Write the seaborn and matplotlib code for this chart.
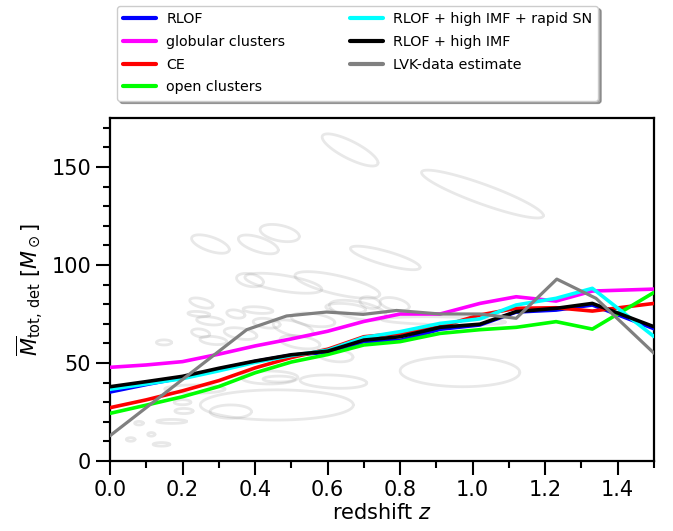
import numpy as np
import pandas as pd
import matplotlib
matplotlib.use("Agg")
import matplotlib.pyplot as plt
import seaborn as sns

# ---------------- data ----------------
z_model = [0.0, 0.1, 0.2, 0.3, 0.4, 0.5, 0.6, 0.7, 0.8, 0.91, 1.02, 1.12, 1.23, 1.33, 1.5]

rlof        = [35.2, 39.0, 42.5, 46.8, 50.8, 54.0, 55.5, 60.9, 61.5, 67.2, 69.4, 76.0, 77.0, 79.6, 67.5]
globular    = [47.8, 49.0, 50.7, 54.5, 58.7, 62.3, 66.2, 71.2, 75.0, 75.0, 80.4, 83.8, 81.6, 86.7, 87.7]
ce          = [27.2, 31.2, 35.8, 41.0, 47.5, 52.8, 57.0, 63.4, 65.1, 68.5, 74.5, 77.9, 78.2, 76.5, 80.4]
open_cl     = [24.3, 28.5, 32.8, 38.0, 45.0, 50.5, 54.3, 59.2, 60.9, 65.1, 67.0, 68.2, 71.1, 67.3, 86.0]
rlof_imf_sn = [36.6, 39.3, 42.0, 46.0, 50.3, 53.8, 56.5, 63.0, 66.0, 70.2, 72.5, 79.6, 83.0, 88.1, 63.5]
rlof_imf    = [37.9, 40.5, 43.2, 47.3, 51.0, 54.2, 56.0, 61.7, 63.4, 68.2, 69.8, 76.2, 77.9, 80.4, 68.5]

z_lvk = [0.0, 0.377, 0.487, 0.597, 0.698, 0.79, 0.91, 1.02, 1.12, 1.232, 1.34, 1.5]
lvk   = [12.9, 67.0, 74.0, 76.0, 74.8, 76.8, 75.0, 75.0, 72.8, 92.8, 83.0, 55.0]

series_labels = ["RLOF", "globular clusters", "CE", "open clusters",
                 "RLOF + high IMF + rapid SN", "RLOF + high IMF", "LVK-data estimate"]
series_colors = ["#0000ff", "#ff00ff", "#ff0000", "#00ff00", "#00ffff", "#000000", "#808080"]

# individual-event credible ellipses: centre z, centre M, half-width z, half-height M, correlation
ell_z   = [0.662, 1.027, 0.277, 0.409, 0.468, 0.759, 0.627, 0.386, 0.478, 0.252,
           0.965, 0.460, 0.333, 0.616, 0.466, 0.234, 0.149, 0.080, 0.057, 0.114,
           0.142, 0.170, 0.204, 0.245, 0.276, 0.347, 0.408, 0.250, 0.285, 0.432,
           0.505, 0.524, 0.620, 0.650, 0.717, 0.683, 0.440, 0.785, 0.920, 0.200,
           0.360, 0.560]
ell_M   = [158.7, 136.2, 110.7, 110.5, 116.3, 103.6, 89.8, 92.3, 90.7, 80.6,
           45.6, 28.6, 25.2, 40.5, 41.8, 36.7, 60.5, 19.3, 11.0, 13.6,
           8.5, 20.2, 25.5, 75.0, 71.5, 75.0, 77.0, 65.3, 61.5, 70.3,
           67.7, 60.6, 54.0, 77.9, 80.8, 76.9, 42.6, 80.0, 71.5, 30.0,
           65.0, 72.0]
ell_dz  = [0.077, 0.168, 0.052, 0.055, 0.054, 0.096, 0.117, 0.037, 0.106, 0.032,
           0.165, 0.211, 0.057, 0.092, 0.044, 0.083, 0.021, 0.012, 0.012, 0.010,
           0.023, 0.041, 0.025, 0.030, 0.037, 0.025, 0.041, 0.025, 0.037, 0.037,
           0.055, 0.055, 0.050, 0.055, 0.028, 0.078, 0.078, 0.040, 0.170, 0.023,
           0.045, 0.060]
ell_dM  = [8.2, 12.2, 4.7, 4.8, 4.4, 6.0, 6.8, 3.4, 5.1, 2.6,
           7.7, 7.7, 3.4, 3.4, 1.5, 2.1, 1.3, 0.9, 0.9, 0.9,
           0.9, 1.0, 1.3, 1.3, 2.1, 2.1, 1.7, 2.1, 2.1, 2.5,
           4.3, 3.4, 3.4, 2.5, 3.0, 5.1, 3.3, 3.4, 2.1, 1.3,
           3.0, 3.5]
ell_rho = [-0.8, -0.9, -0.6, -0.6, -0.4, -0.8, -0.7, -0.3, -0.6, -0.5,
           -0.05, 0.0, 0.0, -0.2, 0.0, 0.0, 0.0, 0.0, 0.0, 0.0,
           0.0, 0.0, 0.0, -0.3, -0.3, -0.3, -0.3, -0.3, -0.3, -0.3,
           -0.5, -0.4, -0.3, -0.3, -0.3, -0.5, 0.0, -0.4, -0.3, 0.0,
           -0.4, -0.4]

# ---------------- plot ----------------
sns.set_style("ticks")
plt.rcParams["font.family"] = ["DejaVu Sans"]
plt.rcParams["mathtext.fontset"] = "dejavusans"
plt.rcParams.update({"text.color": "black", "axes.labelcolor": "black",
                     "axes.edgecolor": "black", "xtick.color": "black",
                     "ytick.color": "black"})

fig = plt.figure(figsize=(6.73, 5.31), dpi=100)
ax = fig.add_axes([110 / 673, 70 / 531, 544 / 673, 343 / 531])

t = np.linspace(0, 2 * np.pi, 120)
for zc, mc, dz, dm, r in zip(ell_z, ell_M, ell_dz, ell_dM, ell_rho):
    ex = zc + dz * np.cos(t)
    ey = mc + dm * (r * np.cos(t) + np.sqrt(1 - r * r) * np.sin(t))
    ax.plot(ex, ey, color="gray", alpha=0.18, lw=2.0, zorder=1)

model_series = [rlof, globular, ce, open_cl, rlof_imf_sn, rlof_imf]
for vals, lab, col in zip(model_series, series_labels[:6], series_colors[:6]):
    df = pd.DataFrame({"z": z_model, "M": vals})
    sns.lineplot(data=df, x="z", y="M", ax=ax, color=col, lw=2.6, label=lab,
                 sort=False, estimator=None, zorder=3)
df = pd.DataFrame({"z": z_lvk, "M": lvk})
sns.lineplot(data=df, x="z", y="M", ax=ax, color=series_colors[6], lw=2.3,
             label=series_labels[6], sort=False, estimator=None, zorder=4)

ax.set_xlim(0, 1.5)
ax.set_ylim(0, 175)
ax.set_xticks([0.0, 0.2, 0.4, 0.6, 0.8, 1.0, 1.2, 1.4])
ax.set_xticks(np.arange(0.1, 1.51, 0.2), minor=True)
ax.set_yticks([0, 50, 100, 150])
ax.set_yticks([v for v in range(10, 175, 10) if v % 50], minor=True)
ax.tick_params(axis="both", which="major", direction="out", length=10, width=1.5,
               labelsize=15, colors="black")
ax.tick_params(axis="both", which="minor", direction="out", length=5, width=1.5,
               colors="black")
for s in ax.spines.values():
    s.set_linewidth(1.6)
    s.set_color("black")
ax.set_xlabel("redshift $z$", fontsize=15, labelpad=2)
ax.set_ylabel(r"$\overline{M}_{\rm tot,\,det}$ [$M_\odot$]", fontsize=15, labelpad=4)

ax.legend_.remove()
handles, labels = ax.get_legend_handles_labels()
leg = fig.legend(handles, labels,
                 loc="upper left", bbox_to_anchor=(117 / 673, 1 - 6 / 531),
                 borderaxespad=0.0,
                 ncol=2, fontsize=10.3, frameon=True, shadow=True, fancybox=True,
                 framealpha=1, edgecolor="#cccccc", labelspacing=0.6,
                 columnspacing=4.5, handlelength=2.3, handletextpad=0.7,
                 borderpad=0.45)
for line in leg.get_lines():
    line.set_linewidth(3)

fig.savefig("out.png", dpi=100)
